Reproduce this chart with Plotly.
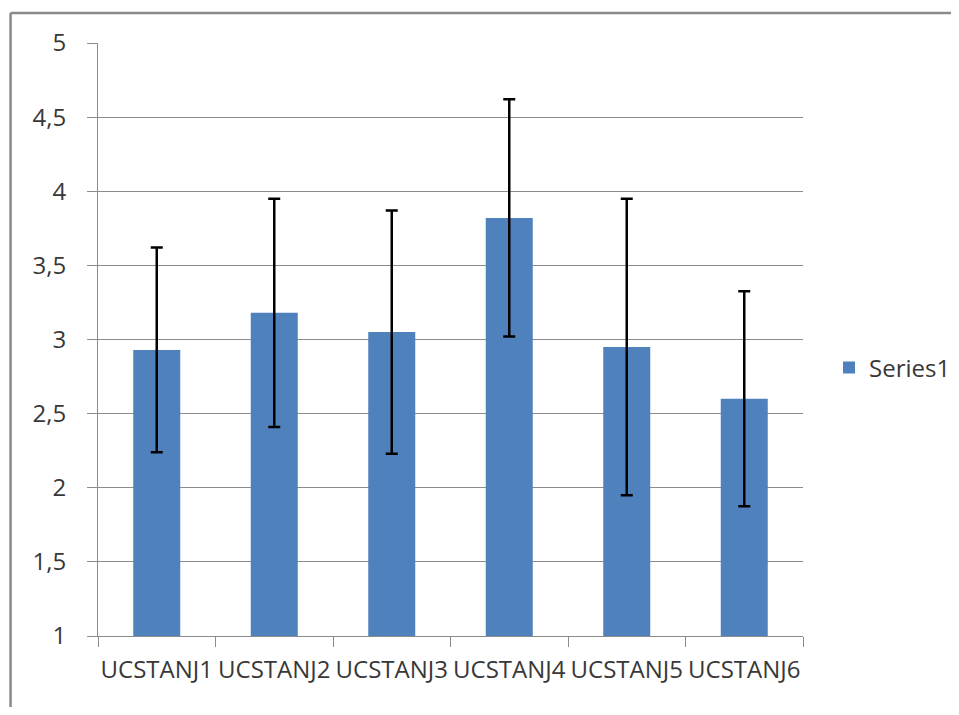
import plotly.graph_objects as go

categories = ["UCSTANJ1", "UCSTANJ2", "UCSTANJ3", "UCSTANJ4", "UCSTANJ5", "UCSTANJ6"]
means = [2.93, 3.18, 3.05, 3.82, 2.95, 2.60]
errors = [0.69, 0.77, 0.82, 0.80, 1.00, 0.725]
y_ticks = [1, 1.5, 2, 2.5, 3, 3.5, 4, 4.5, 5]
series_name = "Series1"

OFF = 8  # page body margin
W, H = 959 - OFF, 715 - 2 * OFF
L, R, T, B = 97.5 - OFF, 803 - OFF, 43 - OFF, 636 - OFF
pw, ph = R - L, B - T

fig = go.Figure()
fig.add_trace(go.Bar(
    x=categories, y=means, name=series_name,
    marker=dict(color="#4F81BD", line=dict(width=0)),
    error_y=dict(type="data", array=errors, visible=True,
                 color="black", thickness=2.5, width=6),
    showlegend=True,
))

font = "Open Sans, Noto Sans, sans-serif"
txt = "#383838"
frame_x = (10 - OFF - L) / pw
frame_top = (B - (13 - OFF)) / ph
frame_right = (W + 20 - L) / pw
frame_bottom = (B - (H + 20)) / ph
frame = dict(color="#8a8a8a", width=2.5)
fig.update_layout(
    width=W, height=H,
    margin=dict(l=L, r=W - R, t=T, b=H - B, pad=0, autoexpand=False),
    paper_bgcolor="white", plot_bgcolor="white",
    separators=",.",
    bargap=0.6,
    font=dict(family=font, size=24, color=txt),
    showlegend=True,
    legend=dict(xref="container", yref="container",
                x=(829 - OFF) / W, y=1 - (368 - OFF) / H, xanchor="left", yanchor="middle",
                font=dict(size=24, color=txt), bgcolor="rgba(0,0,0,0)",
                itemwidth=30),
    xaxis=dict(showline=True, linecolor="#8c8c8c", linewidth=1, automargin=False,
               ticks="outside", tickson="boundaries", ticklen=10, tickcolor="#8c8c8c",
               tickangle=0, showgrid=False, tickfont=dict(size=24, color=txt),
               ticklabelstandoff=12),
    yaxis=dict(range=[1, 5], tickvals=y_ticks, showline=True, linecolor="#8c8c8c", linewidth=1,
               automargin=False,
               ticks="outside", ticklen=10, tickcolor="#8c8c8c",
               showgrid=True, gridcolor="#8c8c8c", gridwidth=1, zeroline=False,
               tickfont=dict(size=24, color=txt), ticklabelstandoff=16),
    shapes=[
        dict(type="line", xref="paper", yref="paper", x0=frame_x, x1=frame_right,
             y0=frame_top, y1=frame_top, line=frame, layer="below"),
        dict(type="line", xref="paper", yref="paper", x0=frame_x, x1=frame_x,
             y0=frame_top, y1=frame_bottom, line=frame, layer="below"),
    ],
)

fig.write_html("out.html")
